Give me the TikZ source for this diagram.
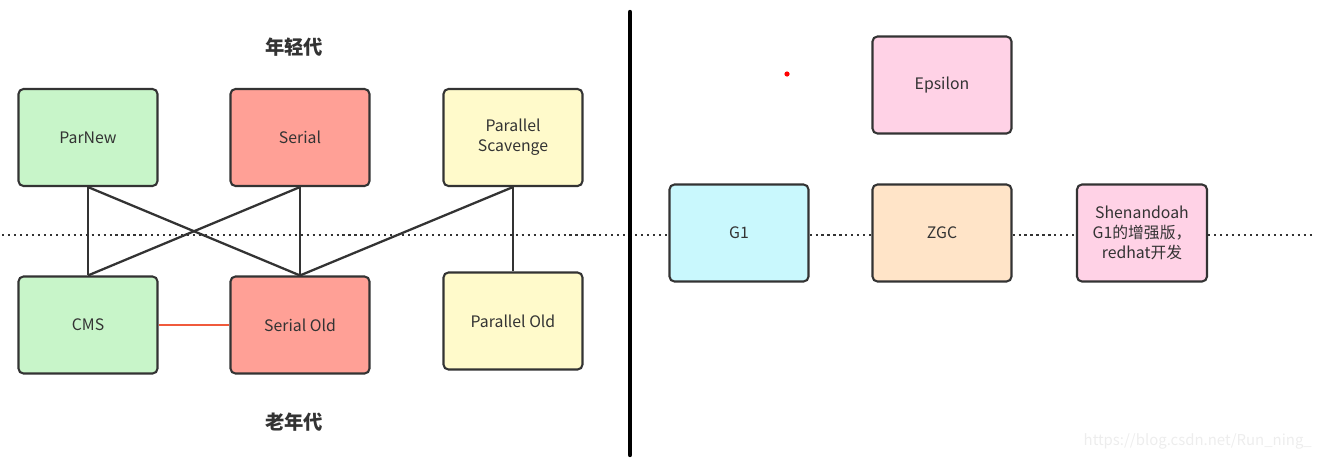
\documentclass[tikz,border=0pt]{standalone}
\usepackage{fontspec}
\setmainfont{Noto Sans CJK SC}
\usepackage{xcolor}
\usepackage{tikz}
\usetikzlibrary{positioning}

\definecolor{edge}{HTML}{333333}
\definecolor{greenbox}{HTML}{C8F5C9}
\definecolor{redbox}{HTML}{FFA096}
\definecolor{yellowbox}{HTML}{FFFACB}
\definecolor{cyanbox}{HTML}{C9F8FD}
\definecolor{peachbox}{HTML}{FFE4C8}
\definecolor{pinkbox}{HTML}{FFD2E6}
\definecolor{redline}{HTML}{F05A3C}

\begin{document}
\begin{tikzpicture}[
  x=0.02cm, y=-0.02cm,
  box/.style={draw=edge, line width=1.2pt, rounded corners=2.8pt,
              minimum width=2.78cm, minimum height=1.94cm,
              font=\fontsize{9}{11.4}\selectfont, align=center, text=edge},
  link/.style={draw=edge, line width=1.3pt},
  dots/.style={draw=edge, line width=1.2pt, dash pattern=on 1.2pt off 2.2pt},
  title/.style={font=\fontsize{11}{13}\selectfont\bfseries, text=edge}
]
\useasboundingbox (0,0) rectangle (1326,460);

% young generation
\node[box, fill=greenbox]  (parnew) at (88,137.5)  {ParNew};
\node[box, fill=redbox]    (serial) at (300,137.5) {Serial};
\node[box, fill=yellowbox] (pscav)  at (513,137.5) {Parallel\\Scavenge};

% old generation
\node[box, fill=greenbox]  (cms)       at (88,325)  {CMS};
\node[box, fill=redbox]    (serialold) at (300,325) {Serial Old};
\node[box, fill=yellowbox] (pold)      at (513,321) {Parallel Old};

\node[title] (young) at (294,47)  {年轻代};
\node[title] (old)   at (294,422) {老年代};

% whole heap collectors
\node[box, fill=pinkbox]  (eps)  at (942,85)   {Epsilon};
\node[box, fill=cyanbox]  (g1)   at (739,233)  {G1};
\node[box, fill=peachbox] (zgc)  at (942,233)  {ZGC};
\node[box, fill=pinkbox, minimum width=2.6cm] (shen) at (1142,233)
  {Shenandoah\\G1的增强版，\\redhat开发};

% dotted generation border
\coordinate (dl) at (2,235);
\coordinate (dr) at (1313,235);
\draw[dots] (dl) -- (g1.west |- dl);
\draw[dots] (g1.east |- dl) -- (zgc.west |- dl);
\draw[dots] (zgc.east |- dl) -- (shen.west |- dl);
\draw[dots] (shen.east |- dl) -- (dr);

% pairings
\draw[link] (parnew.south) -- (cms.north);
\draw[link] (parnew.south) -- (serialold.north);
\draw[link] (serial.south) -- (cms.north);
\draw[link] (serial.south) -- (serialold.north);
\draw[link] (pscav.south)  -- (serialold.north);
\draw[link] (pscav.south)  -- (pold.north);
\draw[draw=redline, line width=1.3pt] (cms.east) -- (serialold.west);

% divider
\coordinate (vt) at (630,12);
\coordinate (vb) at (630,455);
\draw[black, line width=2.5pt, line cap=round] (vt) -- (vb);

\fill[red] (787,74) circle (2.6);
\node[text=black!7, font=\fontsize{8.5}{10}\selectfont, anchor=east] (mark) at (1318,441)
  {https://blog.csdn.net/Run\_ning\_};
\end{tikzpicture}
\end{document}
